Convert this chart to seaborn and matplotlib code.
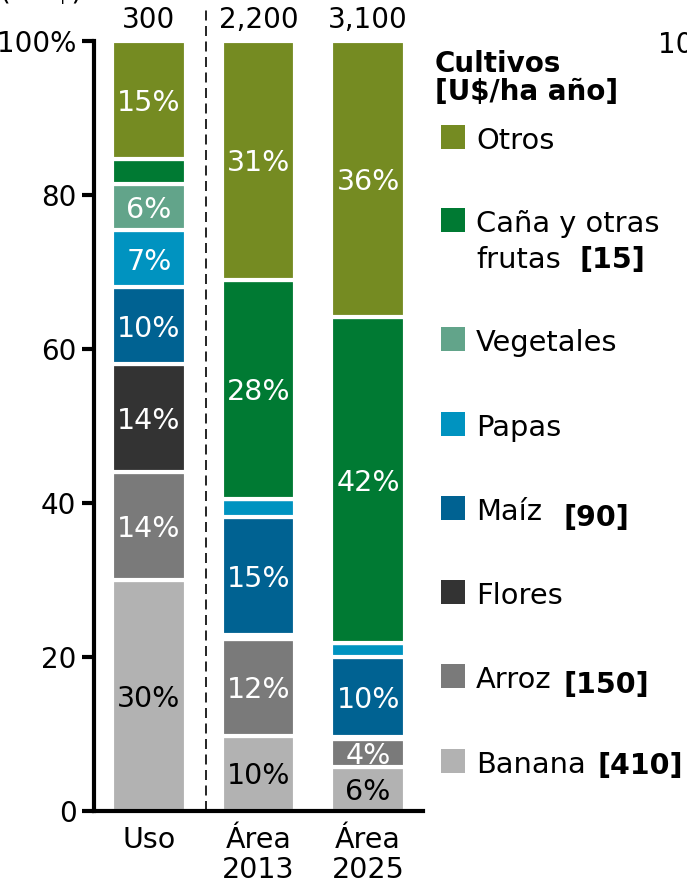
import matplotlib
matplotlib.use("Agg")
import matplotlib.pyplot as plt
import seaborn as sns
import numpy as np
from matplotlib.patches import Rectangle

# ---------------- data ----------------
categories = ["Uso", "Área\n2013", "Área\n2025"]
totals = ["300", "2,200", "3,100"]

# stacked bottom -> top (percent)
banana = [30.0, 9.8, 5.7]
arroz = [14.0, 12.5, 3.65]
flores = [14.0, 0.5, 0.25]
maiz = [10.0, 15.4, 10.4]
papas = [7.4, 2.3, 1.8]
vegetales = [6.0, 0.0, 0.0]
cana = [3.3, 28.5, 42.3]
otros = [15.3, 31.0, 35.9]

banana_lbl = ["30%", "10%", "6%"]
arroz_lbl = ["14%", "12%", "4%"]
flores_lbl = ["14%", "", ""]
maiz_lbl = ["10%", "15%", "10%"]
papas_lbl = ["7%", "", ""]
vegetales_lbl = ["6%", "", ""]
cana_lbl = ["", "28%", "42%"]
otros_lbl = ["15%", "31%", "36%"]

yticks = [0, 20, 40, 60, 80, 100]
ytick_labels = ["0", "20", "40", "60", "80", "100%"]

legend_title = ["Cultivos", "[U$/ha año]"]

colors = {
    "Otros": "#758b22",
    "Caña": "#007a33",
    "Vegetales": "#62a48a",
    "Papas": "#0093c0",
    "Maíz": "#006292",
    "Flores": "#333333",
    "Arroz": "#7a7a7a",
    "Banana": "#b2b2b2",
}

series = [
    ("Banana", banana, banana_lbl, "black"),
    ("Arroz", arroz, arroz_lbl, "white"),
    ("Flores", flores, flores_lbl, "white"),
    ("Maíz", maiz, maiz_lbl, "white"),
    ("Papas", papas, papas_lbl, "white"),
    ("Vegetales", vegetales, vegetales_lbl, "white"),
    ("Caña", cana, cana_lbl, "white"),
    ("Otros", otros, otros_lbl, "white"),
]

# ---------------- style ----------------
sns.set_style("ticks")
plt.rcParams["font.family"] = ["DejaVu Sans"]
plt.rcParams.update({
    "text.color": "black",
    "axes.labelcolor": "black",
    "xtick.color": "black",
    "ytick.color": "black",
    "axes.edgecolor": "black",
})

W, H = 687, 888
fig = plt.figure(figsize=(W / 100, H / 100), dpi=100)
ax = fig.add_axes([94 / W, 1 - 811 / H, (423 - 94) / W, (811 - 41) / H])

bottom = np.zeros(len(categories))
for name, vals, lbls, tcol in series:
    sns.barplot(x=categories, y=vals, order=categories, bottom=bottom,
                color=colors[name], saturation=1, width=0.67,
                edgecolor="white", linewidth=3, errorbar=None, ax=ax)
    for i, (v, l) in enumerate(zip(vals, lbls)):
        if l:
            ax.text(i, bottom[i] + v / 2, l, ha="center", va="center_baseline",
                    color=tcol, fontsize=20.5)
    bottom = bottom + np.array(vals)

for i, t in enumerate(totals):
    ax.text(i, 103.1, t, ha="center", va="center_baseline", fontsize=20,
            clip_on=False, color="black")

ax.axvline(0.52, ymin=0, ymax=1.04, color="black", lw=1.2,
           linestyle=(0, (6, 3.3)), clip_on=False)

ax.set_xlim(-0.5, 2.5)
ax.set_ylim(0, 100)
ax.set_yticks(yticks)
ax.set_yticklabels(ytick_labels)
ax.set_xlabel("")
ax.set_ylabel("")
sns.despine(ax=ax)
for s in ("left", "bottom"):
    ax.spines[s].set_linewidth(3)
    ax.spines[s].set_color("black")
ax.tick_params(axis="y", length=8.6, width=3, pad=4, labelsize=20,
               colors="black")
ax.tick_params(axis="x", length=0, pad=11, labelsize=20.5, colors="black")
for lab in ax.get_xticklabels():
    lab.set_linespacing(1.1)

# ---------------- legend (manual) ----------------
def fx(x):
    return x / W

def fy(y):
    return 1 - y / H

fig.text(fx(435), fy(72), legend_title[0], fontsize=20, fontweight="bold",
         va="baseline", ha="left")
fig.text(fx(435), fy(100), legend_title[1], fontsize=20, fontweight="bold",
         va="baseline", ha="left")

legend_items = [
    ("Otros", "Otros", 137),
    ("Caña", "Caña y otras", 220),
    ("Vegetales", "Vegetales", 339),
    ("Papas", "Papas", 424),
    ("Maíz", "Maíz", 508),
    ("Flores", "Flores", 592),
    ("Arroz", "Arroz", 676),
    ("Banana", "Banana", 761),
]
for key, label, yc in legend_items:
    fig.patches.append(Rectangle((fx(441), fy(yc + 12)), 24 / W, 24 / H,
                                 transform=fig.transFigure,
                                 facecolor=colors[key], edgecolor="none"))
    fig.text(fx(476), fy(yc + 1), label, fontsize=20.8, va="center_baseline",
             ha="left")

fig.text(fx(476), fy(257), "frutas", fontsize=20.8, va="center_baseline", ha="left")
price_tags = [("[15]", 580, 257), ("[90]", 564, 515), ("[150]", 563, 682),
              ("[410]", 597, 763)]
for txt, x, y in price_tags:
    fig.text(fx(x), fy(y), txt, fontsize=20.5, fontweight="bold",
             va="center_baseline", ha="left")

# cropped neighbouring texts
fig.text(fx(0), fy(-0.5), "(MU$)", fontsize=20, va="baseline", ha="left")
fig.text(fx(658), fy(42), "100%", fontsize=20, va="center_baseline", ha="left")

fig.savefig("out.png", dpi=100)
